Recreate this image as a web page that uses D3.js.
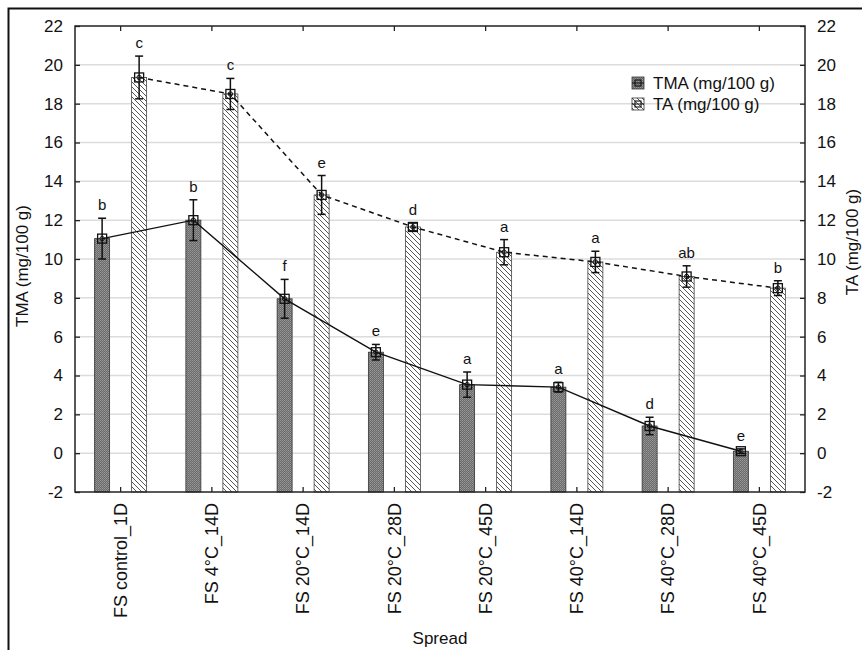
<!DOCTYPE html>
<html>
<head>
<meta charset="utf-8">
<script src="https://cdn.jsdelivr.net/npm/d3@7"></script>
<style>
  body { margin: 0; background: #fff; }
  svg text { font-family: "Liberation Sans", Arial, sans-serif; fill: #111; }
</style>
</head>
<body>
<svg id="chart" width="862" height="650"></svg>
<script>
// data
const categories = ["FS control_1D", "FS 4°C_14D", "FS 20°C_14D", "FS 20°C_28D",
                    "FS 20°C_45D", "FS 40°C_14D", "FS 40°C_28D", "FS 40°C_45D"];
const tmaValues = [11.05, 12.0, 7.95, 5.2, 3.53, 3.4, 1.4, 0.1];
const tmaErrors = [1.05, 1.05, 1.0, 0.4, 0.65, 0.25, 0.45, 0.12];
const tmaLetters = ["b", "b", "f", "e", "a", "a", "d", "e"];
const taValues = [19.35, 18.5, 13.3, 11.65, 10.35, 9.85, 9.1, 8.5];
const taErrors = [1.1, 0.8, 1.0, 0.2, 0.65, 0.55, 0.55, 0.38];
const taLetters = ["c", "c", "e", "d", "a", "a", "ab", "b"];
const yTicks = [-2, 0, 2, 4, 6, 8, 10, 12, 14, 16, 18, 20, 22];

const svg = d3.select("#chart");
const margin = { top: 26, right: 57, bottom: 158, left: 75 };
const W = 862, H = 650;
const plotRight = W - margin.right;
const plotBottom = H - margin.bottom;

const x = d3.scaleBand().domain(categories).range([margin.left, plotRight]);
const sub = d3.scalePoint().domain(["TMA", "TA"]).range([-18.5, 18.5]);
const y = d3.scaleLinear().domain([-2, 22]).range([plotBottom, margin.top]);
const barW = 15;

// patterns
const defs = svg.append("defs");
const dark = defs.append("pattern").attr("id", "darkPat")
    .attr("patternUnits", "userSpaceOnUse").attr("width", 2).attr("height", 2);
dark.append("rect").attr("width", 2).attr("height", 2).attr("fill", "#6a6a6a");
dark.append("rect").attr("width", 1).attr("height", 1).attr("fill", "#9a9a9a");
dark.append("rect").attr("x", 1).attr("y", 1).attr("width", 1).attr("height", 1).attr("fill", "#8a8a8a");

const hatch = defs.append("pattern").attr("id", "hatchPat")
    .attr("patternUnits", "userSpaceOnUse").attr("width", 5).attr("height", 5);
hatch.append("rect").attr("width", 5).attr("height", 5).attr("fill", "#fff");
hatch.append("path").attr("d", "M-1,-1 L6,6 M-1,4 L1,6 M4,-1 L6,1")
    .attr("stroke", "#444").attr("stroke-width", 0.9);

// outer frame (only top and left visible)
svg.append("path").attr("d", "M8.5,650 L8.5,8.5 L862,8.5")
    .attr("fill", "none").attr("stroke", "#111").attr("stroke-width", 2);

// grid
svg.append("g").selectAll("line")
  .data(yTicks.filter(t => t > -2 && t < 22))
  .join("line")
    .attr("x1", margin.left).attr("x2", plotRight)
    .attr("y1", d => y(d)).attr("y2", d => y(d))
    .attr("stroke", "#dcdcdc").attr("stroke-width", 1.5);

// bars
const rows = categories.map((c, i) => ({
  cat: c, tma: tmaValues[i], tmaErr: tmaErrors[i], tmaL: tmaLetters[i],
  ta: taValues[i], taErr: taErrors[i], taL: taLetters[i]
}));

svg.append("g").selectAll("rect")
  .data(rows)
  .join("rect")
    .attr("x", d => x(d.cat) + x.bandwidth() / 2 + sub("TMA") - barW / 2)
    .attr("y", d => y(d.tma))
    .attr("width", barW)
    .attr("height", d => y(-2) - y(d.tma))
    .attr("fill", "url(#darkPat)")
    .attr("stroke", "#333").attr("stroke-width", 0.8);

svg.append("g").selectAll("rect")
  .data(rows)
  .join("rect")
    .attr("x", d => x(d.cat) + x.bandwidth() / 2 + sub("TA") - barW / 2)
    .attr("y", d => y(d.ta))
    .attr("width", barW)
    .attr("height", d => y(-2) - y(d.ta))
    .attr("fill", "url(#hatchPat)")
    .attr("stroke", "#444").attr("stroke-width", 0.8);

// lines
const cx = (d, s) => x(d.cat) + x.bandwidth() / 2 + sub(s);
svg.append("path")
  .datum(rows)
  .attr("fill", "none").attr("stroke", "#111").attr("stroke-width", 1.4)
  .attr("d", d3.line().x(d => cx(d, "TMA")).y(d => y(d.tma)));

svg.append("path")
  .datum(rows)
  .attr("fill", "none").attr("stroke", "#111").attr("stroke-width", 1.5)
  .attr("stroke-dasharray", "5,4")
  .attr("d", d3.line().x(d => cx(d, "TA")).y(d => y(d.ta)));

// error bars, markers, letters
function drawPoints(key, errKey, letterKey, s) {
  const g = svg.append("g");
  const pts = g.selectAll("g").data(rows).join("g")
    .attr("transform", d => `translate(${cx(d, s)},0)`);
  pts.append("line")
    .attr("y1", d => y(d[key] + d[errKey])).attr("y2", d => y(d[key] - d[errKey]))
    .attr("stroke", "#111").attr("stroke-width", 1.5);
  [1, -1].forEach(sign => {
    pts.append("line")
      .attr("x1", -4).attr("x2", 4)
      .attr("y1", d => y(d[key] + sign * d[errKey])).attr("y2", d => y(d[key] + sign * d[errKey]))
      .attr("stroke", "#111").attr("stroke-width", 1.5);
  });
  pts.append("rect")
    .attr("x", -4.5).attr("y", d => y(d[key]) - 4.5)
    .attr("width", 9).attr("height", 9)
    .attr("fill", "none").attr("stroke", "#111").attr("stroke-width", 1.3);
  pts.append("circle")
    .attr("cy", d => y(d[key])).attr("r", 2.2)
    .attr("fill", "none").attr("stroke", "#111").attr("stroke-width", 1);
  pts.append("text")
    .attr("y", d => y(d[key] + d[errKey]) - 8)
    .attr("text-anchor", "middle")
    .attr("font-size", 15)
    .text(d => d[letterKey]);
}
drawPoints("tma", "tmaErr", "tmaL", "TMA");
drawPoints("ta", "taErr", "taL", "TA");

// plot frame
svg.append("rect")
  .attr("x", margin.left).attr("y", margin.top)
  .attr("width", plotRight - margin.left).attr("height", plotBottom - margin.top)
  .attr("fill", "none").attr("stroke", "#222").attr("stroke-width", 1.5);

// axes
const styleAxis = g => {
  g.select(".domain").remove();
  g.selectAll("line").attr("stroke", "#222").attr("stroke-width", 1.3);
  g.selectAll("text").attr("font-size", 17).attr("fill", "#111")
    .attr("font-family", "Liberation Sans, Arial, sans-serif");
};
const plainFmt = d => String(d);

svg.append("g")
  .attr("transform", `translate(${margin.left},0)`)
  .call(d3.axisLeft(y).tickValues(yTicks).tickFormat(plainFmt).tickSize(-5).tickPadding(12))
  .call(styleAxis);

svg.append("g")
  .attr("transform", `translate(${plotRight},0)`)
  .call(d3.axisRight(y).tickValues(yTicks).tickFormat(plainFmt).tickSize(-5).tickPadding(12))
  .call(styleAxis);

svg.append("g")
  .attr("transform", `translate(0,${margin.top})`)
  .call(d3.axisTop(x).tickSize(-5).tickFormat(""))
  .call(styleAxis);

const xAxis = svg.append("g")
  .attr("transform", `translate(0,${plotBottom})`)
  .call(d3.axisBottom(x).tickSize(-5))
  .call(styleAxis);
xAxis.selectAll("text")
  .attr("font-size", 18)
  .attr("transform", "rotate(-90)")
  .attr("text-anchor", "end")
  .attr("x", -11).attr("y", 0).attr("dy", "0.35em");

// axis titles
svg.append("text")
  .attr("transform", "translate(28,266) rotate(-90)")
  .attr("text-anchor", "middle").attr("font-size", 17)
  .text("TMA (mg/100 g)");

svg.append("text")
  .attr("transform", "translate(858,242) rotate(-90)")
  .attr("text-anchor", "middle").attr("font-size", 17)
  .text("TA (mg/100 g)");

svg.append("text")
  .attr("x", (margin.left + plotRight) / 2).attr("y", 644)
  .attr("text-anchor", "middle").attr("font-size", 17)
  .text("Spread");

// legend
const legend = svg.append("g").attr("transform", "translate(632,77)");
const legendItems = [
  { label: "TMA (mg/100 g)", fill: "url(#darkPat)" },
  { label: "TA (mg/100 g)", fill: "url(#hatchPat)" }
];
const li = legend.selectAll("g").data(legendItems).join("g")
  .attr("transform", (d, i) => `translate(0,${i * 21})`);
li.append("rect").attr("width", 12).attr("height", 12)
  .attr("fill", d => d.fill).attr("stroke", "#333").attr("stroke-width", 0.8);
li.append("line").attr("x1", 0).attr("x2", 12).attr("y1", 6).attr("y2", 6)
  .attr("stroke", "#111").attr("stroke-width", 1);
li.append("rect").attr("x", 3).attr("y", 3).attr("width", 6).attr("height", 6)
  .attr("fill", "none").attr("stroke", "#111").attr("stroke-width", 1.1);
li.append("text").attr("x", 21).attr("y", 12)
  .attr("font-size", 17)
  .text(d => d.label);
</script>
</body>
</html>
